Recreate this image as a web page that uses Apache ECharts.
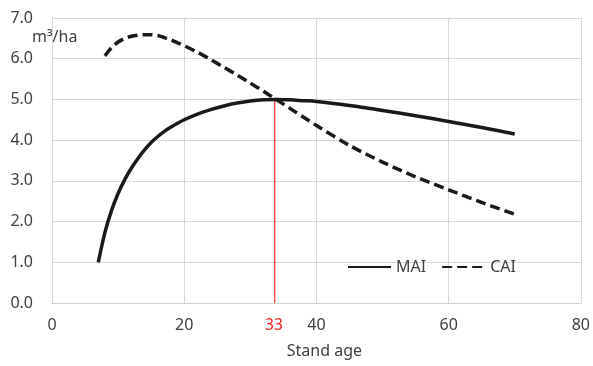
<!DOCTYPE html>
<html>
<head>
<meta charset="utf-8">
<script src="https://cdn.jsdelivr.net/npm/echarts@6/dist/echarts.min.js"></script>
<style>
html,body{margin:0;padding:0;background:#fff;}
#chart{width:593px;height:366px;}
</style>
</head>
<body>
<div id="chart"></div>
<script>
// Data
const maiAges   = [7, 8, 9, 10, 11, 12, 13, 14, 15, 16, 17, 18, 19, 20, 22, 24, 26, 28, 30, 32, 34, 36, 38, 40, 45, 50, 55, 60, 65, 70];
const maiValues = [1.0, 1.73, 2.27, 2.69, 3.03, 3.31, 3.55, 3.76, 3.94, 4.09, 4.215, 4.32, 4.415, 4.5, 4.64, 4.75, 4.84, 4.91, 4.96, 4.99, 5.0, 4.99, 4.97, 4.95, 4.85, 4.73, 4.6, 4.46, 4.31, 4.15];
const caiAges   = [8, 9, 10, 11, 12, 13, 14, 15, 16, 17, 18, 19, 20, 22, 24, 26, 28, 30, 32, 34, 36, 38, 40, 45, 50, 55, 60, 65, 70];
const caiValues = [6.07, 6.27, 6.41, 6.5, 6.55, 6.58, 6.59, 6.59, 6.57, 6.52, 6.46, 6.39, 6.32, 6.16, 5.98, 5.79, 5.6, 5.4, 5.2, 4.99, 4.78, 4.57, 4.36, 3.87, 3.46, 3.1, 2.78, 2.47, 2.18];
const xTicks = [0, 20, 40, 60, 80];
const refLinePos = 33.7;   // where the red marker line sits on the axis
const refLabel = '33';
const refLineValues = [0, 5.0];
const seriesNames = ['MAI', 'CAI'];
const yUnit = 'm³/ha';
const xName = 'Stand age';

const zip = (a, b) => a.map((v, i) => [v, b[i]]);
const font = '"Noto Sans", sans-serif';
const txt = '#404040';

const chart = echarts.init(document.getElementById('chart'), null, {renderer: 'canvas'});
chart.setOption({
  animation: false,
  backgroundColor: '#fff',
  grid: {left: 52, right: 9, top: 18, bottom: 63, containLabel: false},
  legend: {
    left: 347, top: 259, padding: 0,
    itemWidth: 43, itemHeight: 14, itemGap: 15,
    itemStyle: {opacity: 0},
    textStyle: {fontFamily: font, fontSize: 16, color: txt},
    data: seriesNames
  },
  xAxis: {
    type: 'value', min: 0, max: 80, interval: 20,
    name: xName, nameLocation: 'middle', nameGap: 40,
    nameTextStyle: {fontFamily: font, fontSize: 16, color: txt, padding: [0, 0, 0, 16]},
    axisLine: {show: true, lineStyle: {color: '#cfcfcf', width: 1}},
    axisTick: {show: false},
    axisLabel: {
      customValues: xTicks.concat([refLinePos]),
      margin: 14, fontFamily: font, fontSize: 16, color: txt,
      formatter: v => v === refLinePos ? '{r|' + refLabel + '}' : String(v),
      rich: {r: {color: '#ff2020', fontFamily: font, fontSize: 16, padding: [0, 2, 0, 0]}}
    },
    splitLine: {show: true, lineStyle: {color: '#d9d9d9', width: 1}}
  },
  yAxis: {
    type: 'value', min: 0, max: 7, interval: 1,
    axisLine: {show: true, lineStyle: {color: '#d9d9d9', width: 1}},
    axisTick: {show: false},
    axisLabel: {margin: 19, fontFamily: font, fontSize: 16, color: txt, formatter: v => v.toFixed(1)},
    splitLine: {show: true, lineStyle: {color: '#d9d9d9', width: 1}}
  },
  graphic: [{
    type: 'text', left: 32, top: 29, z: 10,
    style: {text: yUnit, font: '16px ' + font, fill: txt}
  }],
  series: [
    {
      name: 'ref', type: 'line', data: refLineValues.map(v => [refLinePos, v]),
      symbol: 'none', silent: true, z: 2,
      lineStyle: {color: '#ff0000', width: 1},
      itemStyle: {color: '#ff0000'}
    },
    {
      name: seriesNames[0], type: 'line', data: zip(maiAges, maiValues),
      smooth: 0.3, symbol: 'none', z: 3,
      lineStyle: {color: '#1a1a1a', width: 3.5},
      itemStyle: {color: '#1a1a1a'}
    },
    {
      name: seriesNames[1], type: 'line', data: zip(caiAges, caiValues),
      smooth: 0.3, symbol: 'none', z: 3,
      lineStyle: {color: '#1a1a1a', width: 3.5, type: [10, 5]},
      itemStyle: {color: '#1a1a1a'}
    }
  ]
});
</script>
</body>
</html>
